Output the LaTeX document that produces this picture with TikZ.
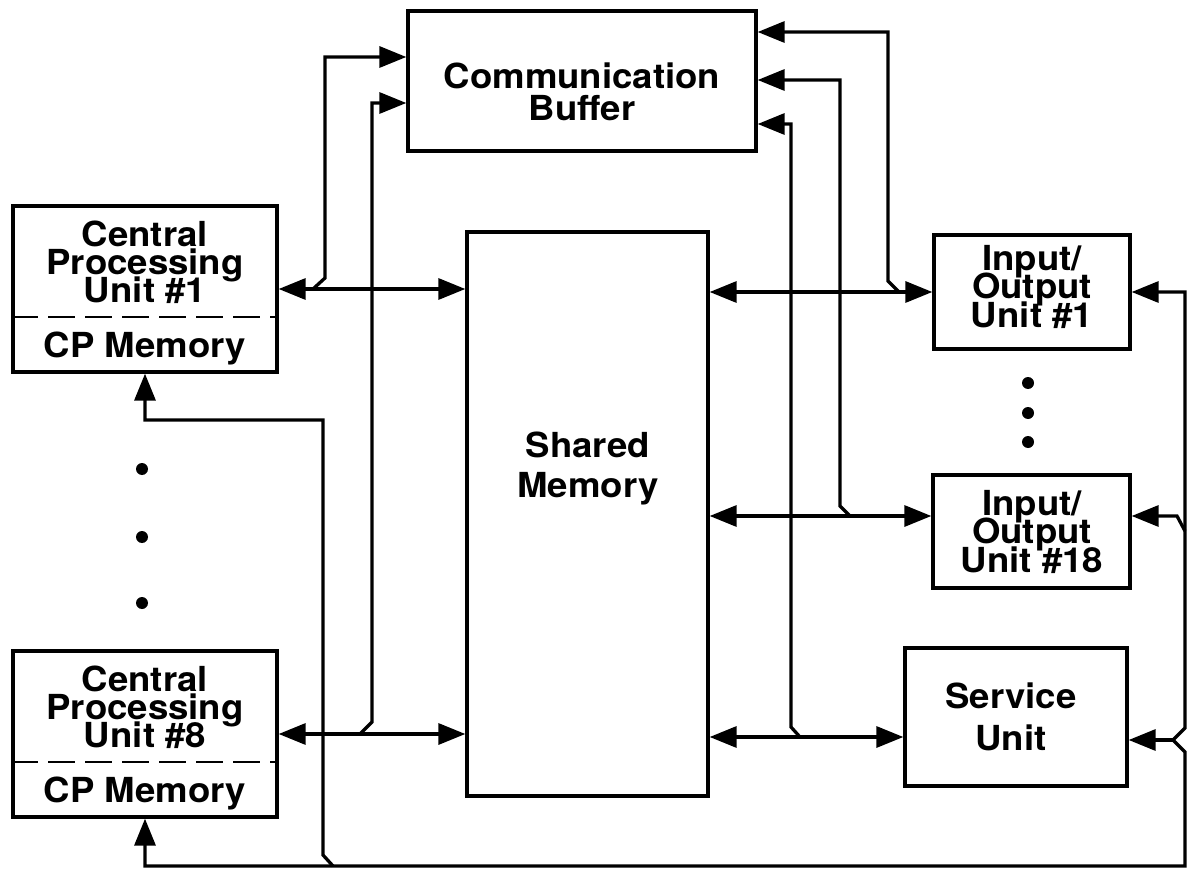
\documentclass[tikz,border=0pt]{standalone}
\usepackage{fontspec}
\setmainfont{TeX Gyre Heros}[FakeStretch=1.06]
\usetikzlibrary{arrows.meta}
\newcommand{\lblfont}[1]{\bfseries\fontsize{34.5}{#1}\selectfont\lineskiplimit=-60pt\relax}
\begin{document}
\begin{tikzpicture}[x=1pt,y=-1pt,
  >={Triangle[length=27pt,width=21pt]},
  box/.style={draw,line width=3.3pt,rectangle,inner sep=0pt},
  lbl/.style={inner sep=0pt,align=center,font=\lblfont{28}},
  con/.style={line width=3.3pt,line join=miter},
  sep/.style={line width=2pt,dash pattern=on 27pt off 10pt},
  dot/.style={fill=black}]
\useasboundingbox (0,0) rectangle (1187,869);

% boxes
\node[box,minimum width=348pt,minimum height=140pt] (cb) at (582,81) {};
\node[box,minimum width=264pt,minimum height=166pt] (cpu1) at (145,289) {};
\node[box,minimum width=264pt,minimum height=166pt] (cpu8) at (145,734) {};
\node[box,minimum width=241pt,minimum height=564pt] (sm) at (587.5,514) {};
\node[box,minimum width=196pt,minimum height=114pt] (io1) at (1032,292) {};
\node[box,minimum width=197pt,minimum height=113pt] (io18) at (1031.5,531.5) {};
\node[box,minimum width=222pt,minimum height=138pt] (su) at (1016,717) {};

% labels
\node[lbl,anchor=north,font=\lblfont{32}] (cbt) at (582,63) {Communication\\Buffer};
\node[lbl,anchor=north] (cpu1t) at (145,221) {Central\\Processing\\Unit \#1};
\node[lbl,anchor=base] (cpu1m) at (145,357) {CP Memory};
\node[lbl,anchor=north] (cpu8t) at (145,666) {Central\\Processing\\Unit \#8};
\node[lbl,anchor=base] (cpu8m) at (145,802) {CP Memory};
\node[lbl,anchor=north,font=\lblfont{40}] (smt) at (588,432) {Shared\\Memory};
\node[lbl,anchor=north,font=\lblfont{28.5}] (io1t) at (1032,245) {Input/\\Output\\Unit \#1};
\node[lbl,anchor=north,font=\lblfont{28.5}] (io18t) at (1032,490) {Input/\\Output\\Unit \#18};
\node[lbl,anchor=north,font=\lblfont{42}] (sut) at (1011,683) {Service\\Unit};

% dashed separators
\draw[sep] (cpu1.west |- 0,317) -- (cpu1.east |- 0,317);
\draw[sep] (cpu8.west |- 0,762) -- (cpu8.east |- 0,762);

% dots
\fill[dot] (142,469) circle[radius=6pt];
\fill[dot] (142,537) circle[radius=6pt];
\fill[dot] (142,603) circle[radius=6pt];
\fill[dot] (1028,383) circle[radius=6pt];
\fill[dot] (1028,413) circle[radius=6pt];
\fill[dot] (1028,442) circle[radius=6pt];

% junction coordinates
\coordinate (j1) at (313,289);
\coordinate (j8) at (360,734);
\coordinate (jio1) at (899,292);
\coordinate (jio18) at (850,516);
\coordinate (jsu) at (800,737);
\coordinate (jb) at (333,866);
\coordinate (kr18) at (1185,531);
\coordinate (krsu) at (1173,740);

% CPU <-> shared memory
\draw[con,<->] (cpu1.east) -- (cpu1.east -| sm.west);
\draw[con,<->] (cpu8.east) -- (cpu8.east -| sm.west);

% shared memory <-> I/O and service
\draw[con,<->] (io1.west -| sm.east) -- (io1.west);
\draw[con,<->] (sm.east |- jio18) -- (io18.west |- jio18);
\draw[con,<->] (sm.east |- jsu) -- (su.west |- jsu);

% CPU lines to communication buffer
\draw[con,->] (j1) -- (325,278) -- (325,57) -- (cb.west |- 0,57);
\draw[con,->] (j8) -- (372,722) -- (372,103) -- (cb.west |- 0,103);

% I/O and service lines to communication buffer
\draw[con,->] (jio1) -- (888,281) -- (888,32) -- (cb.east |- 0,32);
\draw[con,->] (jio18) -- (840,506) -- (840,80) -- (cb.east |- 0,80);
\draw[con,->] (jsu) -- (791,727) -- (791,124) -- (cb.east |- 0,124);

% outer loop
\draw[con,<->] (io1.east) -- (io1.east -| 1185,0) -- (1185,728) -- (krsu) -- (1185,752)
  -- (1185,866) -- (cpu8.south |- 0,866) -- (cpu8.south);
\draw[con,->] (kr18) -- (1177,516) -- (io18.east |- 0,516);
\draw[con,->] (krsu) -- (su.east |- krsu);
\draw[con,->] (jb) -- (323,855) -- (323,420) -- (cpu1.south |- 0,420) -- (cpu1.south);
\end{tikzpicture}
\end{document}
